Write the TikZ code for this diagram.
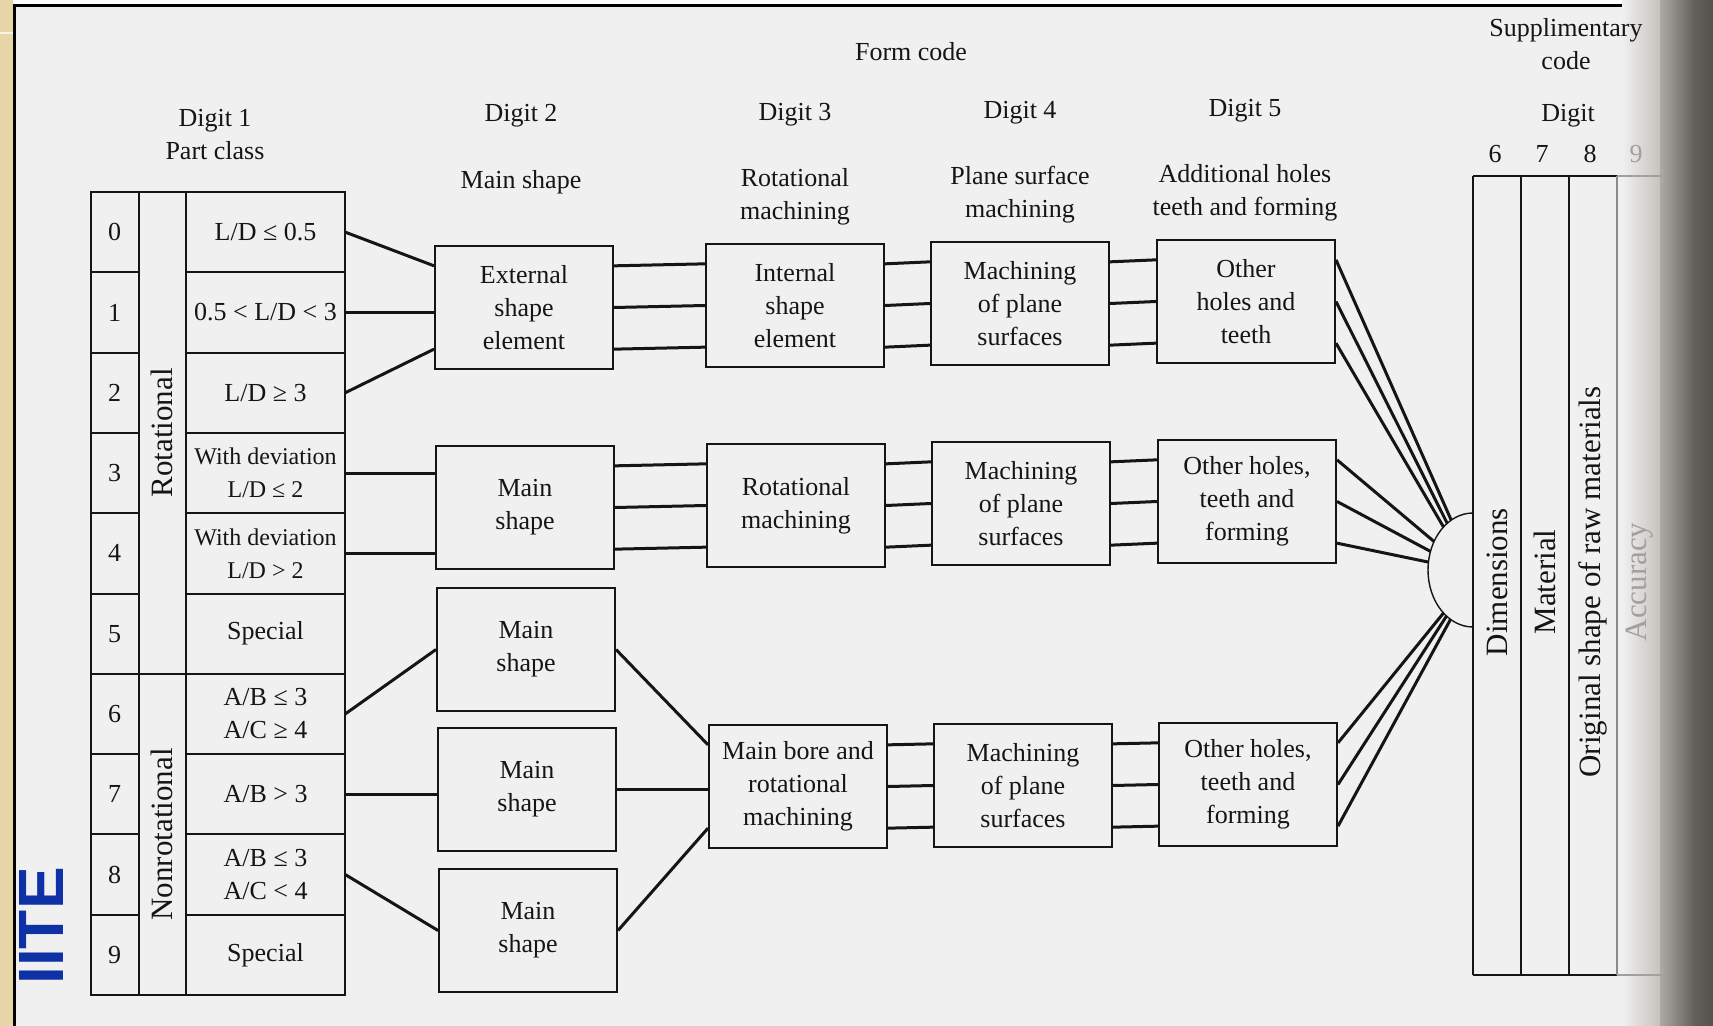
\documentclass[tikz,border=0pt]{standalone}
\usepackage{fontspec}
\setmainfont{Liberation Serif}
\setsansfont{Liberation Sans}
\usetikzlibrary{calc}

\definecolor{ink}{HTML}{151515}
\definecolor{paper}{HTML}{F0F0F0}
\definecolor{strip}{RGB}{233,214,168}
\definecolor{logoblue}{RGB}{14,50,165}
\definecolor{shadeA}{HTML}{C6C2BE}
\definecolor{shadeB}{HTML}{ADA9A5}
\definecolor{shadeC}{HTML}{625E5A}
\definecolor{shadeD}{HTML}{55514D}
\definecolor{faint}{HTML}{A39F9B}

% three parallel links from the right side of one box to the left side of the next
\newcommand\trilink[2]{%
  \foreach \f in {0.1667,0.5,0.8333}
    \draw[link] ($(#1.north east)!\f!(#1.south east)$) -- ($(#2.north west)!\f!(#2.south west)$);}

\begin{document}
\begin{tikzpicture}[x=0.5pt,y=-0.5pt,
  txt/.style={font=\fontsize{13}{16.5}\selectfont, text=ink},
  head/.style={txt, align=center, inner sep=0pt},
  ln/.style={draw=ink, line width=1pt},
  link/.style={draw=ink, line width=1.5pt},
  box/.style={txt, draw=ink, line width=1pt, minimum width=89pt, minimum height=61.5pt,
              inner sep=0pt, align=center},
  numcell/.style={txt, draw=ink, line width=1pt, minimum width=24pt, minimum height=40.15pt,
              inner sep=0pt, outer sep=0pt},
  condcell/.style={txt, draw=ink, line width=1pt, minimum width=79.75pt, minimum height=40.15pt,
              inner sep=0pt, outer sep=0pt, align=center},
  classcell/.style={draw=ink, line width=1pt, rotate=90, minimum height=23.5pt, inner sep=0pt,
              outer sep=0pt, font=\fontsize{15.5}{18}\selectfont, text=ink},
  vlabel/.style={rotate=90, inner sep=0pt, font=\fontsize{15.5}{18}\selectfont, text=ink},
]
\useasboundingbox (0,0) rectangle (1713,1026);

% page, side strip and frame
\fill[white] (0,0) rectangle (1713,1026);
\fill[paper] (14,5) rectangle (1713,1026);
\fill[strip] (0,0) rectangle (13,1026);
\draw[white!70!strip, line width=1.2pt] (0,33) -- (13,33);
\draw[line width=1.5pt] (14,1026) -- (14,5.5) -- (1713,5.5);

% binding shadow on the right edge
\shade[left color=paper, right color=shadeA] (1622,0) rectangle (1660,1026);
\shade[left color=shadeB, right color=shadeC] (1660,0) rectangle (1695,1026);
\shade[left color=shadeC, right color=shadeD] (1695,0) rectangle (1713,1026);

% logo
\node[rotate=90, inner sep=0pt, text=logoblue,
      font=\sffamily\bfseries\fontsize{32}{32}\selectfont] (logo) at (41,926) {IITE};

% headings
\node[head] (formcode) at (911,52) {Form code};
\node[head] (h1) at (215,135) {Digit 1\\Part class};
\node[head] (h2) at (521,116) {Digit 2};
\node[head] (h2s) at (521,182) {Main shape};
\node[head] (h3) at (795,115) {Digit 3};
\node[head] (h3s) at (795,197) {Rotational\\machining};
\node[head] (h4) at (1020,113) {Digit 4};
\node[head] (h4s) at (1020,195) {Plane surface\\machining};
\node[head] (h5) at (1245,111) {Digit 5};
\node[head] (h5s) at (1245,193) {Additional holes\\teeth and forming};
\node[head] (supp) at (1566,44) {Supplimentary\\code};
\node[head] (sdig) at (1568,116) {Digit};
\node[head] (k6) at (1495,154) {6};
\node[head] (k7) at (1542,154) {7};
\node[head] (k8) at (1590,154) {8};
\node[head, text=faint] (k9) at (1636,154) {9};

% part class table
\node[numcell] (n0) at (114.7,232.15) {0};
\node[numcell] (n1) at (114.7,312.45) {1};
\node[numcell] (n2) at (114.7,392.75) {2};
\node[numcell] (n3) at (114.7,473.05) {3};
\node[numcell] (n4) at (114.7,553.35) {4};
\node[numcell] (n5) at (114.7,633.65) {5};
\node[numcell] (n6) at (114.7,713.95) {6};
\node[numcell] (n7) at (114.7,794.25) {7};
\node[numcell] (n8) at (114.7,874.55) {8};
\node[numcell] (n9) at (114.7,954.85) {9};

\node[classcell, minimum width=240.9pt] (rot) at (162.2,432.9) {Rotational};
\node[classcell, minimum width=160.6pt] (nonrot) at (162.2,834.4) {Nonrotational};

\node[condcell] (c0) at (265.5,232.15) {L/D ≤ 0.5};
\node[condcell] (c1) at (265.5,312.45) {0.5 < L/D < 3};
\node[condcell] (c2) at (265.5,392.75) {L/D ≥ 3};
\node[condcell, font=\fontsize{12}{16.5}\selectfont] (c3) at (265.5,473.05) {With deviation\\L/D ≤ 2};
\node[condcell, font=\fontsize{12}{16.5}\selectfont] (c4) at (265.5,553.35) {With deviation\\L/D > 2};
\node[condcell] (c5) at (265.5,633.65) {Special};
\node[condcell] (c6) at (265.5,713.95) {A/B ≤ 3\\A/C ≥ 4};
\node[condcell] (c7) at (265.5,794.25) {A/B > 3};
\node[condcell] (c8) at (265.5,874.55) {A/B ≤ 3\\A/C < 4};
\node[condcell] (c9) at (265.5,954.85) {Special};

% form code boxes
\node[box] (b21) at (524,307.5) {External\\shape\\element};
\node[box] (b22) at (525,507.5) {Main\\shape};
\node[box] (b23) at (526,649.5) {Main\\shape};
\node[box] (b24) at (527,789.5) {Main\\shape};
\node[box] (b25) at (528,930.5) {Main\\shape};

\node[box] (b31) at (795,305.5) {Internal\\shape\\element};
\node[box] (b32) at (796,505.5) {Rotational\\machining};
\node[box] (b33) at (798,786.5) {Main bore and\\rotational\\machining};

\node[box] (b41) at (1020,303.5) {Machining\\of plane\\surfaces};
\node[box] (b42) at (1021,503.5) {Machining\\of plane\\surfaces};
\node[box] (b43) at (1023,785.5) {Machining\\of plane\\surfaces};

\node[box] (b51) at (1246,301.5) {Other\\holes and\\teeth};
\node[box] (b52) at (1247,501.5) {Other holes,\\teeth and\\forming};
\node[box] (b53) at (1248,784.5) {Other holes,\\teeth and\\forming};

% table to digit 2
\draw[link] (c0.east) -- ($(b21.north west)!0.1667!(b21.south west)$);
\draw[link] (c1.east) -- (c1.east -| b21.west);
\draw[link] (c2.east) -- ($(b21.north west)!0.8333!(b21.south west)$);
\draw[link] (c3.east) -- (c3.east -| b22.west);
\draw[link] (c4.east) -- (c4.east -| b22.west);
\draw[link] (c6.east) -- (b23.west);
\draw[link] (c7.east) -- (c7.east -| b24.west);
\draw[link] (c8.east) -- (b25.west);

% digit 2 to digit 3 (nonrotational branch)
\draw[link] (b23.east) -- ($(b33.north west)!0.1667!(b33.south west)$);
\draw[link] (b24.east) -- (b24.east -| b33.west);
\draw[link] (b25.east) -- ($(b33.north west)!0.8333!(b33.south west)$);

% chains of parallel links
\trilink{b21}{b31} \trilink{b31}{b41} \trilink{b41}{b51}
\trilink{b22}{b32} \trilink{b32}{b42} \trilink{b42}{b52}
\trilink{b33}{b43} \trilink{b43}{b53}

% supplementary code table
\draw[ln, line width=0.8pt] (1473,176) -- (1617,176);
\draw[ln, line width=0.8pt] (1473,975) -- (1617,975);
\draw[ln, line width=0.8pt] (1473,176) -- (1473,975);
\draw[ln, line width=0.8pt] (1521,176) -- (1521,975);
\draw[ln, line width=0.8pt] (1569,176) -- (1569,975);
\draw[draw=ink!50, line width=0.8pt] (1617,176) -- (1617,975);
\draw[draw=faint, line width=0.8pt] (1617,176) -- (1662,176);
\draw[draw=faint, line width=0.8pt] (1617,975) -- (1662,975);

\node[vlabel] (dim) at (1497,582) {Dimensions};
\node[vlabel] (mat) at (1545,582) {Material};
\node[vlabel] (raw) at (1593,582) {Original shape of raw materials};
\node[vlabel, text=faint] (acc) at (1640,582) {Accuracy};

% collecting arc in front of the dimensions column
\draw[ln, line width=0.7pt] (1473,513) arc[start angle=270, end angle=90, x radius=45, y radius=57];
\coordinate (e1) at (1451.2,520.1);
\coordinate (e2) at (1447.2,523.3);
\coordinate (e3) at (1443.5,527.0);
\coordinate (e4) at (1434.0,541.5);
\coordinate (e5) at (1430.5,551.4);
\coordinate (e6) at (1428.4,562.1);
\coordinate (e7) at (1443.5,613.0);
\coordinate (e8) at (1446.5,616.1);
\coordinate (e9) at (1450.5,619.4);

\foreach \src/\f/\dst in {b51/0.1667/e1, b51/0.5/e2, b51/0.8333/e3,
                          b52/0.1667/e4, b52/0.5/e5, b52/0.8333/e6,
                          b53/0.1667/e7, b53/0.5/e8, b53/0.8333/e9}
  \draw[link] ($(\src.north east)!\f!(\src.south east)$) -- (\dst);

\end{tikzpicture}
\end{document}
